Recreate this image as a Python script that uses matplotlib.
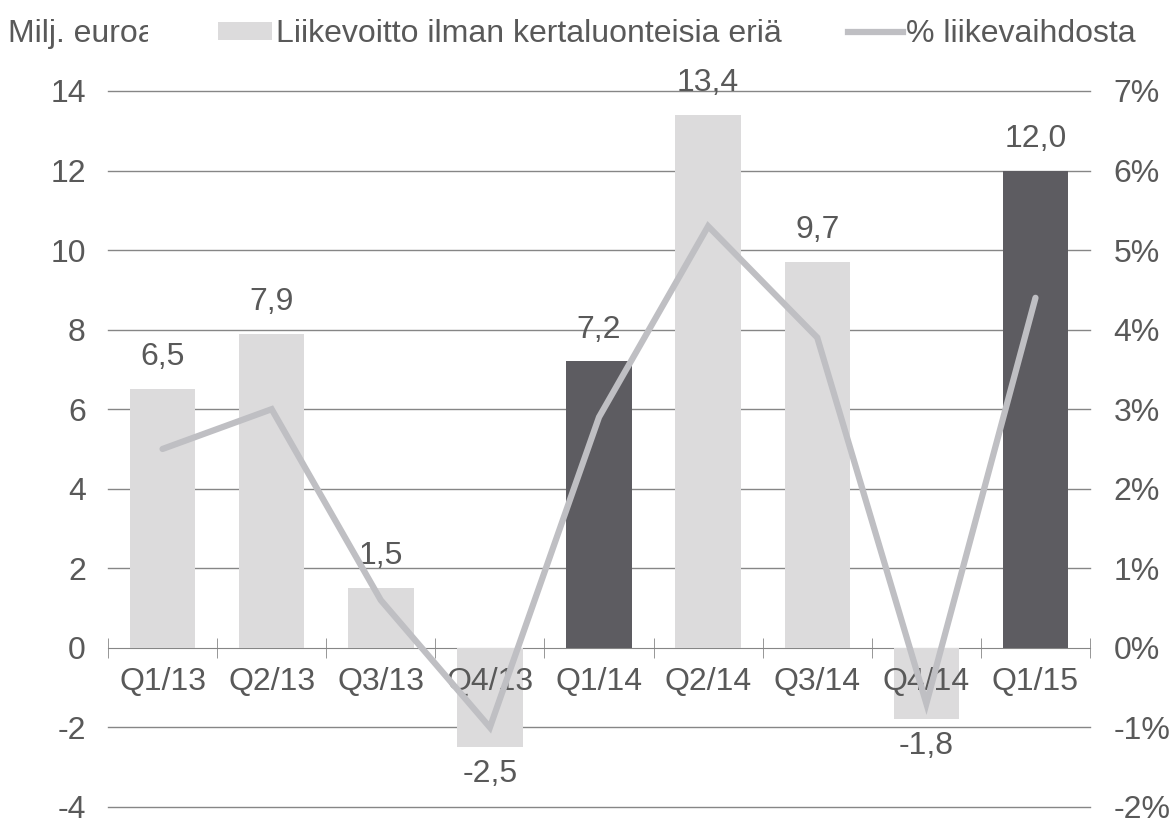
import matplotlib.pyplot as plt
from matplotlib.patches import Patch
from matplotlib.lines import Line2D
from matplotlib.transforms import Bbox

plt.rcParams["font.family"] = ["Liberation Sans", "DejaVu Sans"]

quarters = ["Q1/13", "Q2/13", "Q3/13", "Q4/13", "Q1/14", "Q2/14", "Q3/14", "Q4/14", "Q1/15"]
profit = [6.5, 7.9, 1.5, -2.5, 7.2, 13.4, 9.7, -1.8, 12.0]
pct_of_sales = [2.5, 3.0, 0.6, -1.0, 2.9, 5.3, 3.9, -0.7, 4.4]
highlighted = ["Q1/14", "Q1/15"]

left_ticks = [-4, -2, 0, 2, 4, 6, 8, 10, 12, 14]
right_ticks = [-2, -1, 0, 1, 2, 3, 4, 5, 6, 7]

light = "#dcdbdc"
dark = "#5d5c61"
line_col = "#bfbfc3"
text_col = "#595959"
grid_col = "#868686"
fs = 23

fig = plt.figure(figsize=(11.75, 8.18), dpi=100)
ax = fig.add_axes([0.0919, 0.0135, 0.8358, 0.8753])
ax.set_axisbelow(False)

x = list(range(len(quarters)))
colors = [dark if q in highlighted else light for q in quarters]
ax.bar(x, profit, width=0.6, color=colors, zorder=2)

for xi, v in zip(x, profit):
    off = 23 if v >= 0 else -19
    ax.annotate(f"{v:.1f}".replace(".", ","), (xi, v), xytext=(0, off),
                textcoords="offset points", ha="center", va="center",
                fontsize=fs, color=text_col)

ax.set_xlim(-0.5, len(quarters) - 0.5)
ax.set_ylim(-4, 14)
ax.set_yticks(left_ticks)
ax.set_yticklabels([str(t) for t in left_ticks])
for t in left_ticks:
    if t != 0:
        ax.axhline(t, color=grid_col, lw=1, zorder=1, clip_on=False)

for s in ["top", "right", "left"]:
    ax.spines[s].set_visible(False)
ax.spines["bottom"].set_position(("data", 0))
ax.spines["bottom"].set_color(grid_col)
ax.spines["bottom"].set_zorder(1)

ax.set_xticks(x)
ax.set_xticklabels(quarters)
ax.set_xticks([i - 0.5 for i in range(len(quarters) + 1)], minor=True)
ax.tick_params(axis="x", which="major", length=0, pad=14, labelsize=fs, labelcolor=text_col)
ax.tick_params(axis="x", which="minor", length=14, direction="inout", color=grid_col)
ax.tick_params(axis="y", length=0, pad=16, labelsize=fs, labelcolor=text_col)

ax2 = ax.twinx()
ax2.plot(x, pct_of_sales, color=line_col, lw=4.5, solid_capstyle="round",
         solid_joinstyle="miter", zorder=3)
ax2.set_ylim(-2, 7)
ax2.set_yticks(right_ticks)
ax2.set_yticklabels([f"{t}%" for t in right_ticks])
ax2.tick_params(axis="y", length=0, pad=17, labelsize=fs, labelcolor=text_col)
for s in ax2.spines.values():
    s.set_visible(False)

handles = [Patch(facecolor=light, edgecolor="none"),
           Line2D([0], [0], color=line_col, lw=4.5)]
fig.legend(handles, ["Liikevoitto ilman kertaluonteisia eriä", "% liikevaihdosta"],
           loc="center left", bbox_to_anchor=(0.172, 0.958), ncol=2, frameon=False,
           fontsize=fs, handlelength=1.7, handleheight=0.45, handletextpad=0.1,
           columnspacing=2.1, labelcolor=text_col, borderpad=0)

t = fig.text(0.007, 0.958, "Milj. euroa", fontsize=fs, color=text_col, va="center")
t.set_clip_box(Bbox.from_extents(0, 0, 148, 818))
t.set_clip_on(True)

fig.savefig("out.png", dpi=100)
